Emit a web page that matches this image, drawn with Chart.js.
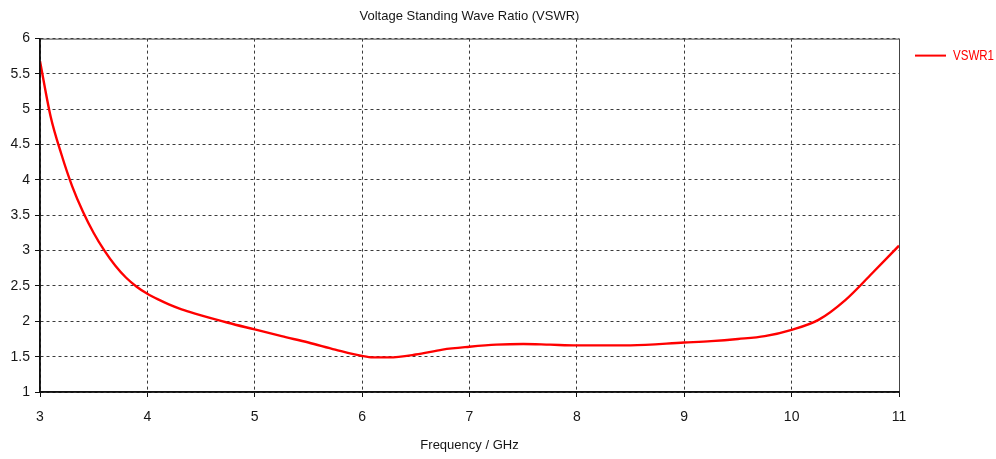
<!DOCTYPE html>
<html>
<head>
<meta charset="utf-8">
<script src="https://cdn.jsdelivr.net/npm/chart.js@4/dist/chart.umd.min.js"></script>
<style>
  html, body { margin: 0; padding: 0; background: #ffffff; }
  #wrap { width: 996px; height: 459px; position: relative; }
</style>
</head>
<body>
<div id="wrap"><canvas id="c" width="996" height="459"></canvas></div>
<script>
// Frequency sweep (GHz) and measured VSWR
const frequencyGHz = [3.0, 3.1, 3.2, 3.3, 3.4, 3.5, 3.6, 3.7, 3.8, 3.9, 4.0, 4.1, 4.2, 4.3, 4.4, 4.5, 4.75, 5.0, 5.25, 5.5, 5.75, 6.0, 6.1, 6.25, 6.5, 6.75, 7.0, 7.25, 7.5, 7.75, 8.0, 8.5, 9.0, 9.25, 9.5, 9.75, 10.0, 10.25, 10.5, 10.75, 11.0];
const vswr1 = [5.68, 4.89, 4.36, 3.91, 3.55, 3.25, 3.00, 2.79, 2.62, 2.49, 2.39, 2.31, 2.24, 2.18, 2.13, 2.085, 1.98, 1.885, 1.79, 1.70, 1.60, 1.51, 1.49, 1.49, 1.53, 1.60, 1.64, 1.67, 1.68, 1.67, 1.66, 1.66, 1.70, 1.72, 1.75, 1.79, 1.88, 2.02, 2.30, 2.68, 3.07];

const xTicks = [3, 4, 5, 6, 7, 8, 9, 10, 11];
const yTicks = [1, 1.5, 2, 2.5, 3, 3.5, 4, 4.5, 5, 5.5, 6];

const chartTitle = 'Voltage Standing Wave Ratio (VSWR)';
const xAxisTitle = 'Frequency / GHz';
const seriesName = 'VSWR1';

const FONT = "'Liberation Sans', Arial, sans-serif";
const TEXT = '#161616';
const GRID = '#3a3a3a';

// Solid frame around the plot (grid lines themselves are dashed)
const framePlugin = {
  id: 'frame',
  afterDatasetsDraw(chart) {
    const { ctx, chartArea: a } = chart;
    ctx.save();
    ctx.setLineDash([]);
    ctx.strokeStyle = '#444';
    ctx.lineWidth = 1;
    ctx.beginPath();
    ctx.moveTo(a.left, a.top + 0.5);
    ctx.lineTo(a.right + 0.5, a.top + 0.5);
    ctx.lineTo(a.right + 0.5, a.bottom);
    ctx.stroke();
    ctx.strokeStyle = '#111';
    ctx.lineWidth = 1.5;
    ctx.beginPath();
    ctx.moveTo(a.left, a.top);
    ctx.lineTo(a.left, a.bottom);
    ctx.lineTo(a.right + 1, a.bottom);
    ctx.stroke();
    ctx.restore();
  }
};

// Legend entry at the upper right, beside the plot
const sideLegend = {
  id: 'sideLegend',
  afterDraw(chart) {
    const { ctx, chartArea: a } = chart;
    const ds = chart.data.datasets[0];
    const y = a.top + 17;
    const x0 = a.right + 16;
    ctx.save();
    ctx.setLineDash([]);
    ctx.strokeStyle = ds.borderColor;
    ctx.lineWidth = 2;
    ctx.beginPath();
    ctx.moveTo(x0, y);
    ctx.lineTo(x0 + 31, y);
    ctx.stroke();
    ctx.fillStyle = ds.borderColor;
    ctx.font = '14px ' + FONT;
    ctx.textBaseline = 'middle';
    ctx.textAlign = 'left';
    ctx.fillText(ds.label, x0 + 38, y + 1, 41);
    ctx.restore();
  }
};

new Chart(document.getElementById('c'), {
  type: 'line',
  data: {
    datasets: [{
      label: seriesName,
      data: frequencyGHz.map((f, i) => ({ x: f, y: vswr1[i] })),
      borderColor: '#ff0000',
      borderWidth: 2.4,
      pointRadius: 0,
      fill: false,
      cubicInterpolationMode: 'monotone'
    }]
  },
  options: {
    responsive: false,
    animation: false,
    layout: { padding: { left: 0, right: 97, top: 0, bottom: 0 } },
    plugins: {
      legend: { display: false },
      tooltip: { enabled: false },
      title: {
        display: true,
        text: chartTitle,
        fullSize: false,
        color: TEXT,
        font: { family: FONT, size: 13, weight: 'normal' },
        padding: { top: 9, bottom: 14 }
      }
    },
    scales: {
      x: {
        type: 'linear',
        min: 3,
        max: 11,
        afterBuildTicks(scale) { scale.ticks = xTicks.map(v => ({ value: v })); },
        afterFit(scale) { scale.height = 67; },
        ticks: {
          color: TEXT,
          font: { family: FONT, size: 14 },
          padding: 12,
          maxRotation: 0,
          callback: v => String(v)
        },
        grid: {
          color: GRID,
          lineWidth: 1,
          tickLength: 5,
          tickColor: '#111',
          tickBorderDash: [],
          drawTicks: true
        },
        border: { display: true, color: '#111', width: 1.5, dash: [3, 3] },
        title: {
          display: true,
          text: xAxisTitle,
          color: TEXT,
          font: { family: FONT, size: 13 },
          padding: { top: 0, bottom: 6 }
        }
      },
      y: {
        type: 'linear',
        min: 1,
        max: 6,
        afterBuildTicks(scale) { scale.ticks = yTicks.map(v => ({ value: v })); },
        afterFit(scale) { scale.width = 40; },
        ticks: {
          color: TEXT,
          font: { family: FONT, size: 14 },
          padding: 5,
          callback: v => String(v)
        },
        grid: {
          color: GRID,
          lineWidth: 1,
          tickLength: 5,
          tickColor: '#111',
          tickBorderDash: [],
          drawTicks: true
        },
        border: { display: true, color: '#111', width: 1.5, dash: [3, 3] }
      }
    }
  },
  plugins: [framePlugin, sideLegend]
});
</script>
</body>
</html>
